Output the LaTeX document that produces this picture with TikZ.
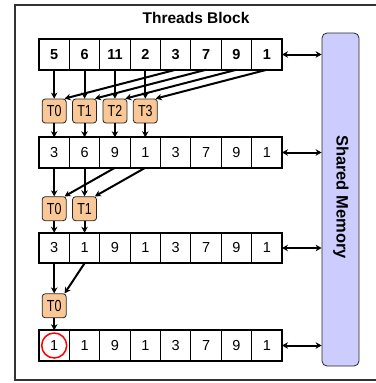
\documentclass[tikz,border=0pt]{standalone}
\usepackage{fontspec}
\setmainfont{Liberation Sans}
\newfontfamily\tfont[FakeStretch=0.78]{Liberation Sans}
\usetikzlibrary{arrows.meta}
\definecolor{tfill}{RGB}{250,200,150}
\definecolor{smfill}{RGB}{204,204,255}
\begin{document}
\begin{tikzpicture}[x=1pt,y=-1pt,
  cell/.style={draw, line width=1pt, minimum width=30.375pt, minimum height=30.5pt, inner sep=0pt, outer sep=0pt, font=\fontsize{14.5}{15}\selectfont},
  tbox/.style={draw=black!85, fill=tfill, rounded corners=3pt, minimum width=24pt, minimum height=24pt, inner sep=0pt, line width=0.8pt, font=\tfont\fontsize{16}{16}\selectfont},
  arr/.style={-{Stealth[length=6pt,width=6.5pt]}, line width=2pt},
  darr/.style={{Stealth[length=6pt,width=6.5pt]}-{Stealth[length=6pt,width=6.5pt]}, line width=2pt}]
\useasboundingbox (0,0) rectangle (375,383);
% frame
\draw[line width=1.5pt, black!80] (380,5) -- (15,5) -- (15,380) -- (380,380);
\node[font=\bfseries\fontsize{15.5}{16}\selectfont] (title) at (196,18) {Threads Block};
% shared memory
\node[draw=black!85, fill=smfill, rounded corners=5pt, minimum width=37pt, minimum height=333pt, line width=0.8pt] (sm) at (340.5,199.5) {};
\node[rotate=-90, font=\bfseries\fontsize{16.5}{17}\selectfont] (smt) at (341,197) {Shared Memory};
% arrays
\foreach \r/\y/\f/\vals in {1/54.5/\bfseries/{5,6,11,2,3,7,9,1},2/152.5//{3,6,9,1,3,7,9,1},3/248//{3,1,9,1,3,7,9,1},4/345.5//{1,1,9,1,3,7,9,1}}{
  \foreach \v [count=\c] in \vals {
    \node[cell] (r\r c\c) at ({39+30.375*(\c-0.5)},\y) {\f\v};
  }
  \draw[line width=2pt] (r\r c1.north west) rectangle (r\r c8.south east);
  \draw[darr] (r\r c8.east) -- (sm.west |- r\r c8.east);
}
% thread boxes
\foreach \k in {0,...,3}{
  \node[tbox] (t1n\k) at ({39+30.375*(\k+0.5)},111) {T\k};
}
\foreach \k in {0,1}{
  \node[tbox] (t2n\k) at ({39+30.375*(\k+0.5)},208.7) {T\k};
}
\node[tbox] (t3n0) at ({39+30.375*0.5},305.8) {T0};
% step 1
\foreach \k [evaluate=\k as \a using int(\k+1), evaluate=\k as \b using int(\k+5)] in {0,...,3}{
  \draw[arr] (r1c\a.south) -- (t1n\k.north);
  \draw[arr] (r1c\b.south) -- ([xshift=-2pt]t1n\k.north east);
  \draw[arr] (t1n\k.south) -- (r2c\a.north);
}
% step 2
\foreach \k [evaluate=\k as \a using int(\k+1), evaluate=\k as \b using int(\k+3)] in {0,1}{
  \draw[arr] (r2c\a.south) -- (t2n\k.north);
  \draw[arr] (r2c\b.south) -- ([xshift=-2pt]t2n\k.north east);
  \draw[arr] (t2n\k.south) -- (r3c\a.north);
}
% step 3
\draw[arr] (r3c1.south) -- (t3n0.north);
\draw[arr] (r3c2.south) -- ([xshift=-2pt]t3n0.north east);
\draw[arr] (t3n0.south) -- (r4c1.north);
% result highlight
\node[draw=red, circle, line width=1.5pt, minimum size=25pt, inner sep=0pt] (hl) at (r4c1) {};
\end{tikzpicture}
\end{document}
